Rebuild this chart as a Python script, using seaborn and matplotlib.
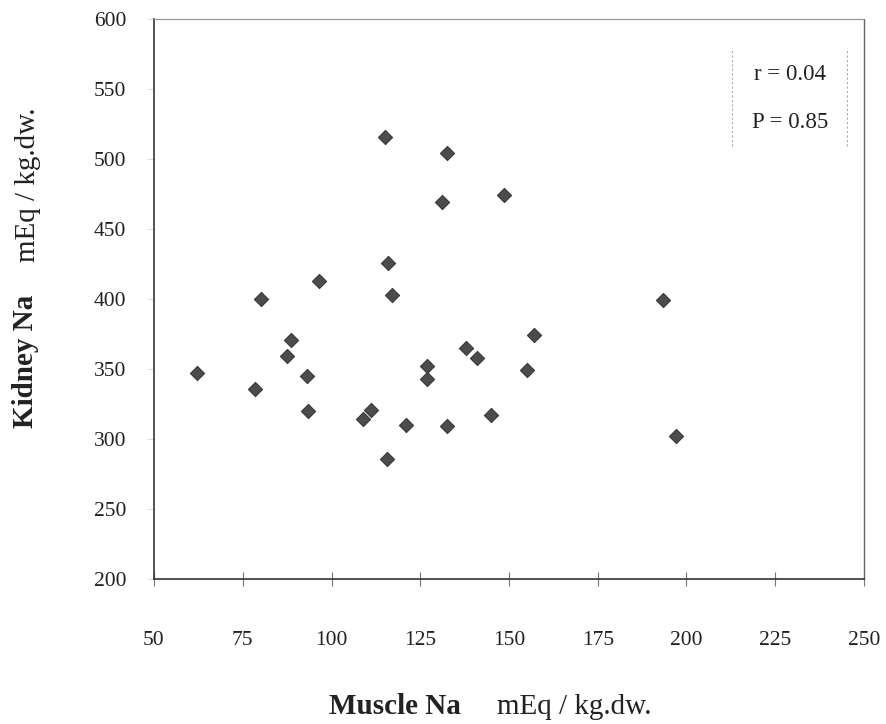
import matplotlib
matplotlib.use("Agg")
import matplotlib.pyplot as plt
import seaborn as sns
import pandas as pd

# Muscle vs kidney sodium content (mEq / kg dry weight)
muscle_na = [62, 80, 78.5, 88.5, 87.5, 93, 93.5, 96.5, 116, 117,
             109, 111, 121, 115.5, 127, 127, 132.5, 138, 141, 145,
             155, 157, 193.5, 197, 115, 132.5, 131, 148.5]
kidney_na = [347, 400, 336, 371, 359, 345, 320, 413, 425.5, 403,
             314, 321, 310, 285.5, 352, 343, 309, 365, 357.5, 317,
             349, 374, 399, 302, 516, 504, 469.5, 474]

x_ticks = [50, 75, 100, 125, 150, 175, 200, 225, 250]
y_ticks = [200, 250, 300, 350, 400, 450, 500, 550, 600]
stat_lines = ["r = 0.04", "P = 0.85"]

df = pd.DataFrame({"muscle": muscle_na, "kidney": kidney_na})

sns.set_style("white")
plt.rcParams["font.family"] = ["Liberation Serif", "DejaVu Serif"]

W, H = 887, 724
fig = plt.figure(figsize=(W / 100, H / 100), dpi=100)
ax = fig.add_axes([154 / W, 1 - 579 / H, (864 - 154) / W, (579 - 19) / H])

sns.scatterplot(data=df, x="muscle", y="kidney", ax=ax, marker="D",
                s=52, color="#4c4c4c", edgecolor="#3a3a3a", linewidth=0.8,
                legend=False, zorder=3)

ax.set_xlim(50, 250)
ax.set_ylim(200, 600)
ax.set_xticks(x_ticks)
ax.set_yticks(y_ticks)
ax.set_xticklabels([str(v) for v in x_ticks], fontsize=15.5, color="#222222")
ax.set_yticklabels([str(v) for v in y_ticks], fontsize=15.5, color="#222222")
ax.tick_params(axis="x", bottom=True, direction="inout", length=10.5,
               width=0.8, color="#777777", pad=32)
ax.tick_params(axis="y", left=True, direction="out", length=5, width=0.5,
               color="#d0d0d0", pad=15)
ax.set_xlabel("")
ax.set_ylabel("")

for side in ["left", "bottom"]:
    ax.spines[side].set_color("#333333")
    ax.spines[side].set_linewidth(1.2)
ax.spines["top"].set_color("#999999")
ax.spines["top"].set_linewidth(0.9)
ax.spines["top"].set_linestyle((0, (1, 1)))
ax.spines["right"].set_color("#666666")
ax.spines["right"].set_linewidth(1.0)
ax.spines["right"].set_linestyle((0, (1, 1)))

# Statistics box: dashed side rules with r and P values
x0, x1 = (732 - 154) / 710, (847 - 154) / 710
y0, y1 = (579 - 146) / 560, (579 - 48) / 560
for xb in (x0, x1):
    ax.plot([xb, xb], [y0, y1], transform=ax.transAxes, color="#aaaaaa",
            linewidth=0.8, linestyle=(0, (2, 2)), clip_on=False)
ax.text((790 - 154) / 710, (579 - 75) / 560, stat_lines[0],
        transform=ax.transAxes, ha="center", va="center", fontsize=16.5,
        color="#222222")
ax.text((790 - 154) / 710, (579 - 122) / 560, stat_lines[1],
        transform=ax.transAxes, ha="center", va="center", fontsize=16.5,
        color="#222222")

# Axis titles: bold quantity name followed by regular unit
fig.text(395 / W, 1 - 707 / H, "Muscle Na", ha="center", va="center",
         fontsize=21, fontweight="bold", color="#222222")
fig.text(574 / W, 1 - 707 / H, "mEq / kg.dw.", ha="center", va="center",
         fontsize=21, color="#222222")
fig.text(26 / W, 1 - 361 / H, "Kidney Na", ha="center", va="center",
         rotation=90, fontsize=21, fontweight="bold", color="#222222")
fig.text(28 / W, 1 - 185 / H, "mEq / kg.dw.", ha="center", va="center",
         rotation=90, fontsize=21, color="#222222")

fig.savefig("out.png", dpi=100, facecolor="white")
